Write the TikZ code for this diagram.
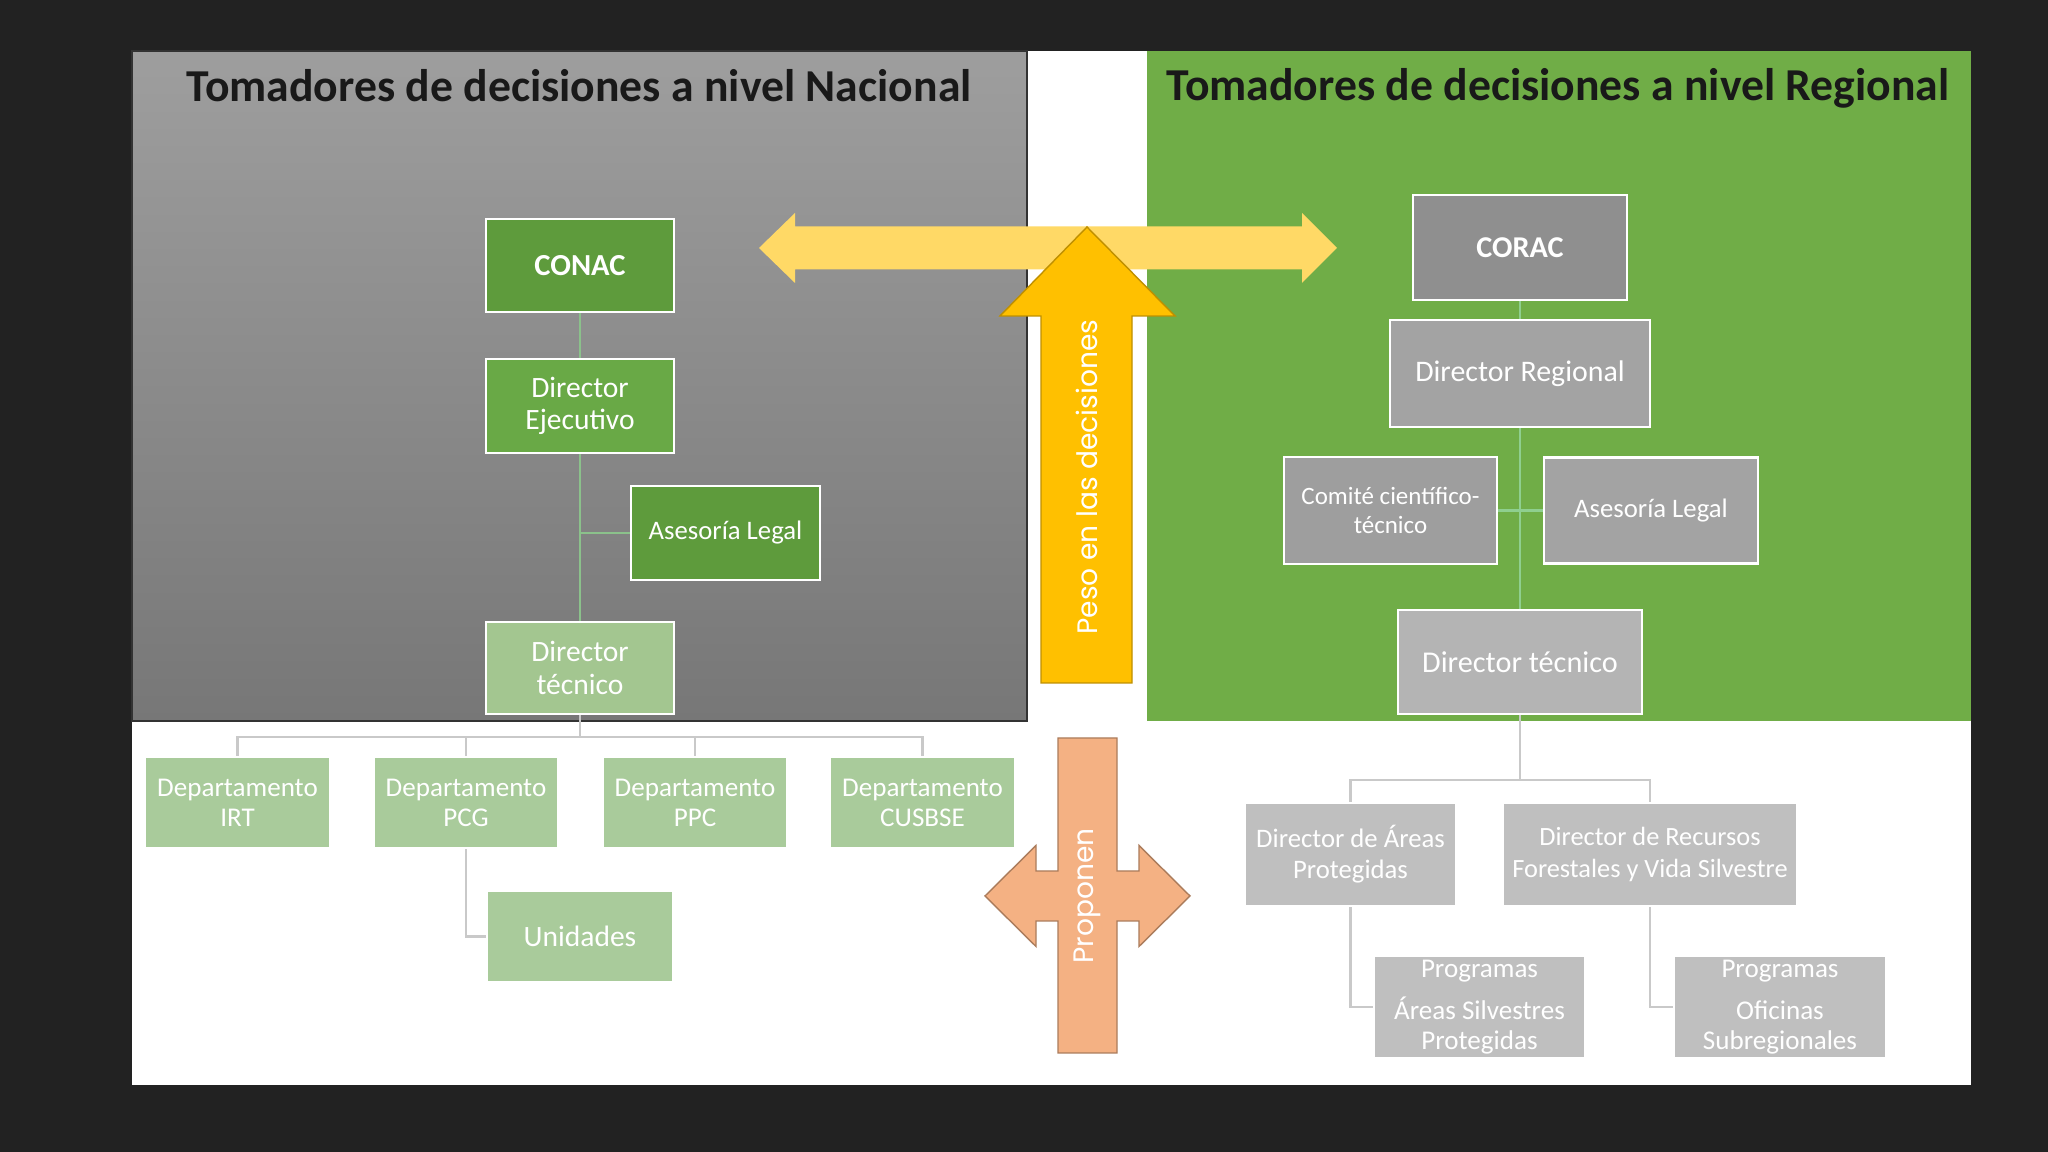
\documentclass[tikz,border=0pt]{standalone}
\usepackage{fontspec}
\setmainfont{Carlito}
\newfontfamily\arrowfont{Poppins}
\usepackage{tikz}
\definecolor{bgdark}{HTML}{222222}
\definecolor{graytop}{HTML}{9E9E9E}
\definecolor{graybot}{HTML}{777777}
\definecolor{panelgreen}{HTML}{70AD47}
\definecolor{darkgreen}{HTML}{5E9B3C}
\definecolor{midgreen}{HTML}{69A946}
\definecolor{lightgreen}{HTML}{A3C690}
\definecolor{depgreen}{HTML}{A9CB9B}
\definecolor{coracgray}{HTML}{8F8F8F}
\definecolor{midgray}{HTML}{A3A3A3}
\definecolor{lightgray}{HTML}{B4B4B4}
\definecolor{lowgray}{HTML}{BFBFBF}
\definecolor{weightyellow}{HTML}{FFC000}
\definecolor{paleyellow}{HTML}{FFD966}
\definecolor{proposeorange}{HTML}{F4B183}

\begin{document}
\begin{tikzpicture}[
  orgbox/.style={draw=white, line width=0.6pt, align=center, text=white, inner sep=1pt},
  title/.style={text=black!90, font=\bfseries\fontsize{13}{15}\selectfont},
  arrowtext/.style={text=white, font=\arrowfont\fontsize{8}{9}\selectfont},
  lineup/.style={draw=green!30!gray!70, line width=0.6pt},
  lineright/.style={draw=green!25!lowgray, line width=0.6pt},
  linelow/.style={draw=lowgray!85, line width=0.6pt}
]
\useasboundingbox (0,0) rectangle (20.48,11.52);
\fill[bgdark] (0,0) rectangle (20.48,11.52);
\fill[white] (1.32,0.67) rectangle (19.71,11.01);
\shade[top color=graytop, bottom color=graybot, draw=black!80, line width=0.5pt] (1.32,4.31) rectangle (10.27,11.01);
\fill[panelgreen] (11.47,4.31) rectangle (19.71,11.01);

\node (titleNacional) [title] at (5.79,10.66) {Tomadores de decisiones a nivel Nacional};
\node (titleRegional) [title] at (15.58,10.64) {Tomadores de decisiones a nivel Regional};

\fill[paleyellow] (7.59,9.04) -- (7.95,9.39) -- (7.95,9.255) -- (13.02,9.255) -- (13.02,9.39) -- (13.37,9.04)
  -- (13.02,8.69) -- (13.02,8.825) -- (7.95,8.825) -- (7.95,8.69) -- cycle;
\filldraw[fill=weightyellow, draw=weightyellow!75!black, line width=0.4pt] (10.41,4.69) -- (10.41,8.36) -- (10.00,8.36)
  -- (10.87,9.25) -- (11.75,8.36) -- (11.32,8.36) -- (11.32,4.69) -- cycle;
\filldraw[fill=proposeorange, draw=proposeorange!70!black, line width=0.4pt] (10.58,4.14) -- (11.17,4.14) -- (11.17,2.81)
  -- (11.39,2.81) -- (11.39,3.065) -- (11.90,2.56) -- (11.39,2.055) -- (11.39,2.31) -- (11.17,2.31)
  -- (11.17,0.99) -- (10.58,0.99) -- (10.58,2.31) -- (10.36,2.31) -- (10.36,2.055) -- (9.85,2.56)
  -- (10.36,3.065) -- (10.36,2.81) -- (10.58,2.81) -- cycle;
\node (pesoLabel) [arrowtext, rotate=90] at (10.87,6.75) {Peso en las decisiones};
\node (proponenLabel) [arrowtext, rotate=90] at (10.87,2.56) {Proponen};

\node (conac) [orgbox, fill=darkgreen, minimum width=1.88cm, minimum height=0.93cm, font=\bfseries\fontsize{8.7}{10}\selectfont] at (5.80,8.865) {CONAC};
\node (dirEjec) [orgbox, fill=midgreen, minimum width=1.88cm, minimum height=0.94cm, font=\fontsize{8.4}{9.3}\selectfont] at (5.80,7.46) {Director\\Ejecutivo};
\node (asesLegal) [orgbox, fill=darkgreen, minimum width=1.89cm, minimum height=0.94cm, font=\fontsize{7.6}{9}\selectfont] at (7.255,6.19) {Asesoría Legal};
\node (dirTec) [orgbox, fill=lightgreen, minimum width=1.88cm, minimum height=0.92cm, font=\fontsize{8.4}{9.3}\selectfont] at (5.80,4.84) {Director\\técnico};

\node (depIRT) [orgbox, fill=depgreen, minimum width=1.85cm, minimum height=0.91cm, font=\fontsize{7.7}{8.5}\selectfont] at (2.375,3.495) {Departamento\\IRT};
\node (depPCG) [orgbox, fill=depgreen, minimum width=1.85cm, minimum height=0.91cm, font=\fontsize{7.7}{8.5}\selectfont] at (4.66,3.495) {Departamento\\PCG};
\node (depPPC) [orgbox, fill=depgreen, minimum width=1.85cm, minimum height=0.91cm, font=\fontsize{7.7}{8.5}\selectfont] at (6.95,3.495) {Departamento\\PPC};
\node (depCUSBSE) [orgbox, fill=depgreen, minimum width=1.85cm, minimum height=0.91cm, font=\fontsize{7.7}{8.5}\selectfont] at (9.225,3.495) {Departamento\\CUSBSE};
\node (unidades) [orgbox, fill=depgreen, minimum width=1.86cm, minimum height=0.91cm, font=\fontsize{8.4}{9.3}\selectfont] at (5.80,2.155) {Unidades};

\node (corac) [orgbox, fill=coracgray, minimum width=2.14cm, minimum height=1.05cm, font=\bfseries\fontsize{8.6}{10}\selectfont] at (15.20,9.045) {CORAC};
\node (dirReg) [orgbox, fill=midgray, minimum width=2.60cm, minimum height=1.07cm, font=\fontsize{8.5}{9.5}\selectfont] at (15.20,7.785) {Director Regional};
\node (comite) [orgbox, fill=midgray!97!black, minimum width=2.13cm, minimum height=1.07cm, font=\fontsize{7.1}{8.5}\selectfont] at (13.905,6.415) {Comité científico-\\técnico};
\node (asesReg) [orgbox, fill=midgray, minimum width=2.14cm, minimum height=1.06cm, font=\fontsize{7.6}{9}\selectfont] at (16.51,6.415) {Asesoría Legal};
\node (dirTecReg) [orgbox, fill=lightgray, minimum width=2.44cm, minimum height=1.04cm, font=\fontsize{8.6}{9.5}\selectfont] at (15.20,4.90) {Director técnico};

\node (dirAreas) [orgbox, fill=lowgray, minimum width=2.11cm, minimum height=1.03cm, font=\fontsize{7.6}{8.9}\selectfont] at (13.505,2.975) {Director de Áreas\\Protegidas};
\node (dirRecursos) [orgbox, fill=lowgray, minimum width=2.94cm, minimum height=1.03cm, font=\fontsize{7.5}{8.9}\selectfont] at (16.50,2.975) {Director de Recursos\\Forestales y Vida Silvestre};
\node (progAreas) [orgbox, fill=lowgray, minimum width=2.11cm, minimum height=1.02cm, font=\fontsize{7.7}{8.3}\selectfont] at (14.795,1.45) {Programas\\[3.7pt]Áreas Silvestres\\Protegidas};
\node (progOficinas) [orgbox, fill=lowgray, minimum width=2.12cm, minimum height=1.02cm, font=\fontsize{7.7}{8.3}\selectfont] at (17.80,1.45) {Programas\\[3.7pt]Oficinas\\Subregionales};

\coordinate (busNac) at (5.80,4.15);
\coordinate (busReg) at (15.20,3.72);

\draw[lineup] (conac) -- (dirEjec);
\draw[lineup] (dirEjec) -- (dirTec);
\draw[lineup] (asesLegal.west) -- (asesLegal.west -| dirEjec.south);
\draw[linelow] (dirTec.south) -- (busNac);
\draw[linelow] (depIRT.north) |- (busNac) -| (depCUSBSE.north);
\draw[linelow] (depPCG.north) -- (depPCG.north |- busNac);
\draw[linelow] (depPPC.north) -- (depPPC.north |- busNac);
\draw[linelow] (depPCG.south) |- (unidades.west);

\draw[lineright] (corac) -- (dirReg);
\draw[lineright] (dirReg) -- (dirTecReg);
\draw[lineright] (comite) -- (asesReg);
\draw[linelow] (dirTecReg.south) -- (busReg);
\draw[linelow] (dirAreas.north) |- (busReg) -| (dirRecursos.north);
\draw[linelow] (dirAreas.south) |- (progAreas.west);
\draw[linelow] (dirRecursos.south) |- (progOficinas.west);

\end{tikzpicture}
\end{document}
